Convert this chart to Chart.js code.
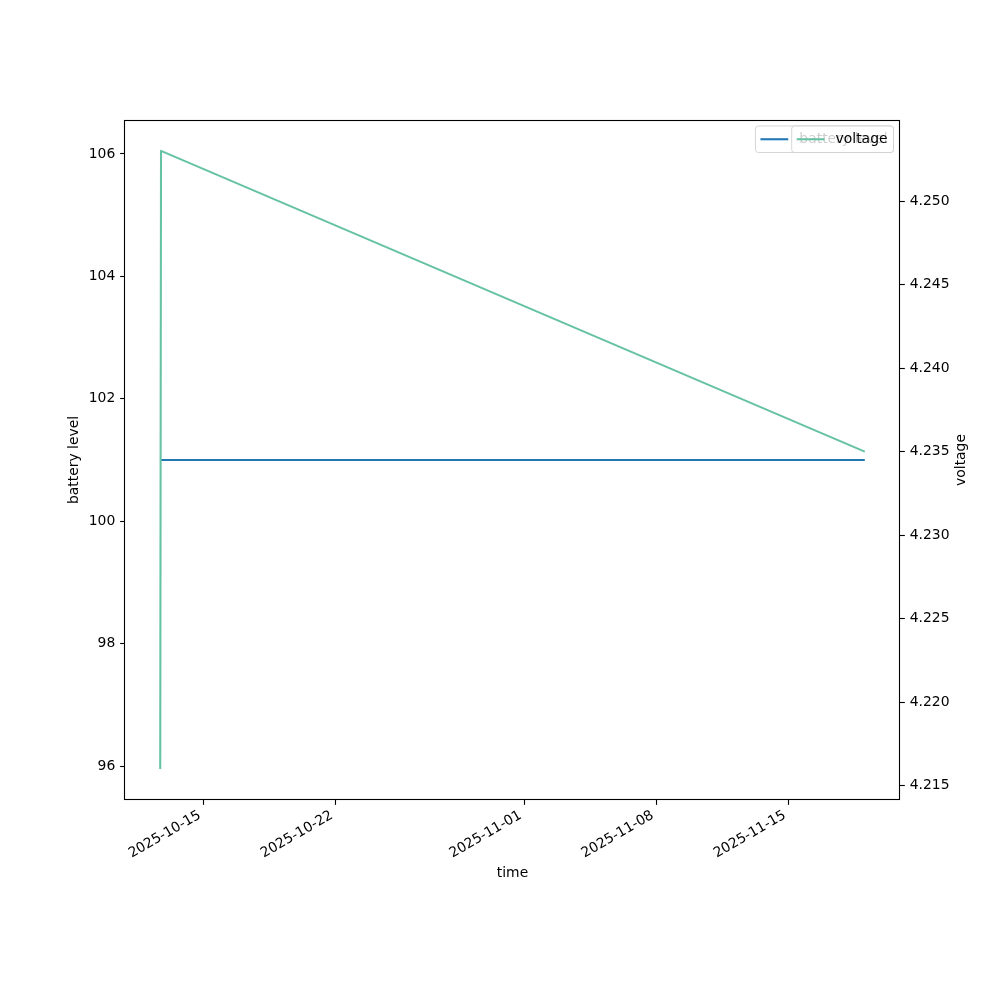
<!DOCTYPE html>
<html>
<head>
<meta charset="utf-8">
<script src="https://cdn.jsdelivr.net/npm/chart.js@4.4.1/dist/chart.umd.min.js"></script>
<style>
  html, body { margin: 0; padding: 0; background: #ffffff; }
  #c { display: block; }
</style>
</head>
<body>
<canvas id="c" width="1000" height="1000"></canvas>
<script>
// ---- data ----
const times = ['2025-10-12T17:15:00Z', '2025-10-12T18:15:00Z', '2025-11-19T01:15:00Z'];
const batteryLevel = [101, 101, 101];
const voltage = [4.216, 4.253, 4.235];

// ---- tick labels ----
const xTickDates = ['2025-10-15', '2025-10-22', '2025-11-01', '2025-11-08', '2025-11-15'];
const yLeftTicks = [96, 98, 100, 102, 104, 106];
const yRightTicks = [4.215, 4.220, 4.225, 4.230, 4.235, 4.240, 4.245, 4.250];

// ---- axis limits (matplotlib-style autoscale) ----
const yLeftMin = 95.445, yLeftMax = 106.555;
const yRightMin = 4.21415, yRightMax = 4.25485;

const tMs = times.map(s => Date.parse(s));
const tSpan = tMs[tMs.length - 1] - tMs[0];
const xMin = tMs[0] - 0.05 * tSpan;
const xMax = tMs[tMs.length - 1] + 0.05 * tSpan;
const xTickValues = xTickDates.map(d => Date.parse(d + 'T00:00:00Z'));

const FONT = 'DejaVu Sans';
const FS = 13.9;
Chart.defaults.font.family = FONT;
Chart.defaults.font.size = FS;
Chart.defaults.color = '#000000';

function pad2(n) { return (n < 10 ? '0' : '') + n; }
function fmtDate(ms) {
  const d = new Date(ms);
  return d.getUTCFullYear() + '-' + pad2(d.getUTCMonth() + 1) + '-' + pad2(d.getUTCDate());
}

const BLUE = '#1f77b4';
const GREEN = '#66c2a5';
const LW = 2.08;

const tickGrid = { drawOnChartArea: false, drawTicks: true, tickLength: 4.86, tickColor: '#000', tickWidth: 1.1 };

const decorPlugin = {
  id: 'decor',
  afterDraw(chart) {
    const ctx = chart.ctx;
    const a = chart.chartArea;
    ctx.save();
    // frame
    ctx.strokeStyle = '#000';
    ctx.lineWidth = 1.1;
    ctx.strokeRect(Math.round(a.left) - 0.5, Math.round(a.top) + 0.5,
                   Math.round(a.right) - Math.round(a.left), Math.round(a.bottom) - Math.round(a.top) - 1);

    // axis titles
    ctx.fillStyle = '#000';
    ctx.font = FS + 'px "' + FONT + '"';
    ctx.textAlign = 'center';
    ctx.textBaseline = 'middle';
    ctx.fillText('time', (a.left + a.right) / 2, 873);
    ctx.save();
    ctx.translate(74.5, (a.top + a.bottom) / 2);
    ctx.rotate(-Math.PI / 2);
    ctx.fillText('battery level', 0, 0);
    ctx.restore();
    ctx.save();
    ctx.translate(961, (a.top + a.bottom) / 2);
    ctx.rotate(-Math.PI / 2);
    ctx.fillText('voltage', 0, 0);
    ctx.restore();

    // legends (two overlapping legends, like twin-axis matplotlib)
    const drawLegend = (label, color) => {
      ctx.font = FS + 'px "' + FONT + '"';
      const tw = ctx.measureText(label).width;
      const right = 893.5, top = 126, h = 26.5;
      const bp = 5.0, hl = 27.8, htp = 11.1;
      const w = bp + hl + htp + tw + bp + 1;
      const left = right - w;
      const r = 2.8;
      ctx.beginPath();
      ctx.moveTo(left + r, top);
      ctx.lineTo(right - r, top);
      ctx.arcTo(right, top, right, top + r, r);
      ctx.lineTo(right, top + h - r);
      ctx.arcTo(right, top + h, right - r, top + h, r);
      ctx.lineTo(left + r, top + h);
      ctx.arcTo(left, top + h, left, top + h - r, r);
      ctx.lineTo(left, top + r);
      ctx.arcTo(left, top, left + r, top, r);
      ctx.closePath();
      ctx.fillStyle = 'rgba(255,255,255,0.8)';
      ctx.fill();
      ctx.strokeStyle = 'rgba(204,204,204,0.8)';
      ctx.lineWidth = 1;
      ctx.stroke();
      const cy = top + h / 2;
      ctx.beginPath();
      ctx.strokeStyle = color;
      ctx.lineWidth = LW;
      ctx.moveTo(left + bp, cy);
      ctx.lineTo(left + bp + hl, cy);
      ctx.stroke();
      ctx.fillStyle = '#000';
      ctx.textAlign = 'left';
      ctx.textBaseline = 'middle';
      ctx.fillText(label, left + bp + hl + htp, cy);
    };
    drawLegend('battery level', BLUE);
    drawLegend('voltage', GREEN);
    ctx.restore();
  }
};

new Chart(document.getElementById('c'), {
  type: 'line',
  data: {
    datasets: [
      {
        label: 'battery level',
        data: tMs.map((t, i) => ({ x: t, y: batteryLevel[i] })),
        borderColor: BLUE,
        borderWidth: LW,
        pointRadius: 0,
        fill: false,
        tension: 0,
        yAxisID: 'y',
        order: 1
      },
      {
        label: 'voltage',
        data: tMs.map((t, i) => ({ x: t, y: voltage[i] })),
        borderColor: GREEN,
        borderWidth: LW,
        pointRadius: 0,
        fill: false,
        tension: 0,
        yAxisID: 'y1',
        order: 0
      }
    ]
  },
  options: {
    responsive: false,
    animation: false,
    devicePixelRatio: 1,
    layout: { padding: { top: 120, left: 0, right: 0, bottom: 0 } },
    plugins: { legend: { display: false }, tooltip: { enabled: false } },
    elements: { line: { borderCapStyle: 'butt', borderJoinStyle: 'round' } },
    scales: {
      x: {
        type: 'linear',
        position: 'bottom',
        min: xMin,
        max: xMax,
        grid: tickGrid,
        border: { display: false },
        afterBuildTicks: s => { s.ticks = xTickValues.map(v => ({ value: v })); },
        afterFit: s => { s.height = 200; },
        ticks: {
          autoSkip: false,
          minRotation: 30,
          maxRotation: 30,
          padding: 2.3,
          labelOffset: -3.5,
          color: '#000',
          callback: v => fmtDate(v)
        }
      },
      y: {
        type: 'linear',
        position: 'left',
        min: yLeftMin,
        max: yLeftMax,
        grid: tickGrid,
        border: { display: false },
        afterBuildTicks: s => { s.ticks = yLeftTicks.map(v => ({ value: v })); },
        afterFit: s => { s.width = 125; },
        ticks: { padding: 4.86, color: '#000', callback: v => String(v) }
      },
      y1: {
        type: 'linear',
        position: 'right',
        min: yRightMin,
        max: yRightMax,
        grid: tickGrid,
        border: { display: false },
        afterBuildTicks: s => { s.ticks = yRightTicks.map(v => ({ value: v })); },
        afterFit: s => { s.width = 100; },
        ticks: { padding: 4.86, color: '#000', callback: v => Number(v).toFixed(3) }
      }
    }
  },
  plugins: [decorPlugin]
});
</script>
</body>
</html>
